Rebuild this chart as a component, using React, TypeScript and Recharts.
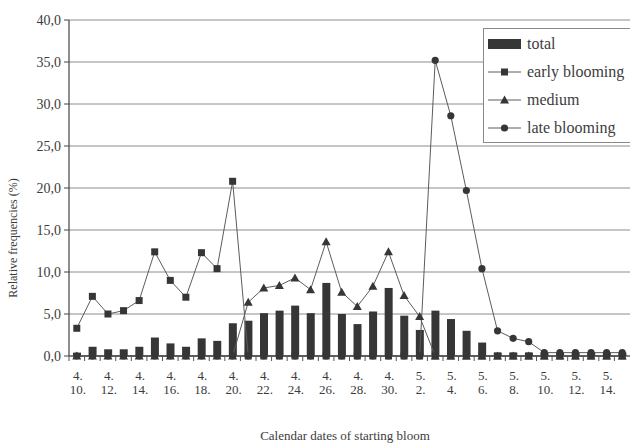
import React from 'react';
import { ComposedChart, Bar, Line, XAxis, YAxis, CartesianGrid, Legend } from 'recharts';

const dates = [
  '4.10', '4.11', '4.12', '4.13', '4.14', '4.15', '4.16', '4.17', '4.18', '4.19',
  '4.20', '4.21', '4.22', '4.23', '4.24', '4.25', '4.26', '4.27', '4.28', '4.29',
  '4.30', '5.1', '5.2', '5.3', '5.4', '5.5', '5.6', '5.7', '5.8', '5.9',
  '5.10', '5.11', '5.12', '5.13', '5.14', '5.15',
];

const total = [
  0.4, 1.1, 0.8, 0.8, 1.1, 2.2, 1.5, 1.1, 2.1, 1.8,
  3.9, 4.2, 5.1, 5.4, 6.0, 5.1, 8.7, 5.0, 3.8, 5.3,
  8.1, 4.8, 3.1, 5.4, 4.4, 3.0, 1.6, 0.4, 0.4, 0.4,
  0.4, 0.4, 0.4, 0.4, 0.4, 0.4,
];

const early = [
  3.3, 7.1, 5.0, 5.4, 6.6, 12.4, 9.0, 7.0, 12.3, 10.4,
  20.8, 0, 0, 0, 0, 0, 0, 0, 0, 0,
  0, 0, 0, 0, 0, 0, 0, 0, 0, 0,
  0, 0, 0, 0, 0, 0,
];

const medium = [
  0, 0, 0, 0, 0, 0, 0, 0, 0, 0,
  0, 6.4, 8.1, 8.4, 9.3, 7.9, 13.6, 7.6, 5.9, 8.3,
  12.4, 7.2, 4.7, 0, 0, 0, 0, 0, 0, 0,
  0, 0, 0, 0, 0, 0,
];

const late = [
  0, 0, 0, 0, 0, 0, 0, 0, 0, 0,
  0, 0, 0, 0, 0, 0, 0, 0, 0, 0,
  0, 0, 0, 35.2, 28.6, 19.7, 10.4, 3.0, 2.1, 1.7,
  0.4, 0.4, 0.4, 0.4, 0.4, 0.4,
];

const yTicks = [0, 5, 10, 15, 20, 25, 30, 35, 40];

const legendItems = [
  { key: 'total', label: 'total', kind: 'bar' },
  { key: 'early', label: 'early blooming', kind: 'square' },
  { key: 'medium', label: 'medium', kind: 'triangle' },
  { key: 'late', label: 'late blooming', kind: 'circle' },
];

const data = dates.map((d, i) => ({
  date: d,
  total: total[i],
  early: early[i],
  medium: medium[i],
  late: late[i],
}));

const FONT = '"Liberation Serif", "Times New Roman", serif';
const INK = '#363636';
const LINE = '#5c5c5c';
const TEXT = '#3c3c3c';

const marker = (kind: string, cx: number, cy: number, key?: any) => {
  if (kind === 'square') {
    return <rect key={key} x={cx - 3.5} y={cy - 3.5} width={7} height={7} fill={INK} />;
  }
  if (kind === 'triangle') {
    return (
      <polygon
        key={key}
        points={`${cx},${cy - 4.5} ${cx - 4.5},${cy + 3.5} ${cx + 4.5},${cy + 3.5}`}
        fill={INK}
      />
    );
  }
  return <circle key={key} cx={cx} cy={cy} r={3.6} fill={INK} />;
};

const makeDot = (kind: string) => (p: any) => {
  const { cx, cy, key, index } = p;
  if (cx == null || cy == null) return <g key={key ?? index} />;
  return marker(kind, cx, cy, key ?? `${kind}-${index}`);
};

const XTick = (props: any) => {
  const { x, y, payload, index } = props;
  const half = payload && payload.offset ? payload.offset : 7.8;
  const parts = String(payload.value).split('.');
  return (
    <g>
      <line x1={x - half} y1={y} x2={x - half} y2={y + 5} stroke="#555" strokeWidth={1} />
      {index % 2 === 0 && (
        <text
          x={x + 1}
          y={y + 24}
          textAnchor="middle"
          fontFamily={FONT}
          fontSize={13}
          fill={TEXT}
        >
          <tspan x={x + 1} dy={0}>{parts[0] + '.'}</tspan>
          <tspan x={x + 1} dy={14}>{parts[1] + '.'}</tspan>
        </text>
      )}
    </g>
  );
};

const LegendBox = () => (
  <div
    style={{
      width: 170,
      height: 112,
      border: '1px solid #8a8a8a',
      background: '#fff',
      paddingTop: 1,
      fontFamily: FONT,
      fontSize: 16,
      color: TEXT,
    }}
  >
    {legendItems.map((it) => (
      <div key={it.key} style={{ height: 28, display: 'flex', alignItems: 'center', whiteSpace: 'nowrap' }}>
        <svg width={43} height={28} style={{ flex: 'none' }}>
          {it.kind === 'bar' ? (
            <rect x={4} y={9} width={33} height={10} fill={INK} />
          ) : (
            <g>
              <line x1={4} y1={14} x2={37} y2={14} stroke={LINE} strokeWidth={1} />
              {marker(it.kind, 20.5, 14)}
            </g>
          )}
        </svg>
        <span>{it.label}</span>
      </div>
    ))}
  </div>
);

export default function App() {
  return (
    <div
      style={{
        position: 'absolute',
        left: 0,
        top: 0,
        width: 630,
        height: 446,
        overflow: 'hidden',
        background: '#fff',
      }}
    >
      <ComposedChart
        width={630}
        height={446}
        data={data}
        margin={{ top: 20, right: 0, bottom: 0, left: 0 }}
        barCategoryGap={0}
      >
        <CartesianGrid vertical={false} stroke="#8c8c8c" strokeWidth={1} />
        <XAxis
          dataKey="date"
          type="category"
          interval={0}
          height={90}
          tickSize={0}
          tickMargin={0}
          tickLine={false}
          axisLine={{ stroke: '#444', strokeWidth: 1.2 }}
          tick={<XTick />}
          label={{
            content: () => (
              <text x={345} y={440} textAnchor="middle" fontFamily={FONT} fontSize={13} fill={TEXT}>
                Calendar dates of starting bloom
              </text>
            ),
          }}
        />
        <YAxis
          type="number"
          domain={[0, 40]}
          ticks={yTicks}
          interval={0}
          width={69}
          tickSize={5}
          tickMargin={3}
          axisLine={{ stroke: '#444', strokeWidth: 1.2 }}
          tickLine={{ stroke: '#444' }}
          tick={{ fontFamily: FONT, fontSize: 14, fill: TEXT }}
          tickFormatter={(v: number) => v.toFixed(1).replace('.', ',')}
          label={{
            content: () => (
              <text
                x={17}
                y={238}
                transform="rotate(-90 17 238)"
                textAnchor="middle"
                fontFamily={FONT}
                fontSize={12}
                fill={TEXT}
              >
                Relative frequencies (%)
              </text>
            ),
          }}
        />
        <Legend
          layout="vertical"
          align="center"
          verticalAlign="middle"
          content={<LegendBox />}
          wrapperStyle={{ left: 483, top: 28, width: 170, height: 114 }}
        />
        <Bar dataKey="total" name="total" fill={INK} barSize={8} isAnimationActive={false} />
        <Line
          dataKey="early"
          name="early blooming"
          type="linear"
          stroke={LINE}
          strokeWidth={1}
          dot={makeDot('square')}
          activeDot={false}
          isAnimationActive={false}
        />
        <Line
          dataKey="medium"
          name="medium"
          type="linear"
          stroke={LINE}
          strokeWidth={1}
          dot={makeDot('triangle')}
          activeDot={false}
          isAnimationActive={false}
        />
        <Line
          dataKey="late"
          name="late blooming"
          type="linear"
          stroke={LINE}
          strokeWidth={1}
          dot={makeDot('circle')}
          activeDot={false}
          isAnimationActive={false}
        />
      </ComposedChart>
    </div>
  );
}
